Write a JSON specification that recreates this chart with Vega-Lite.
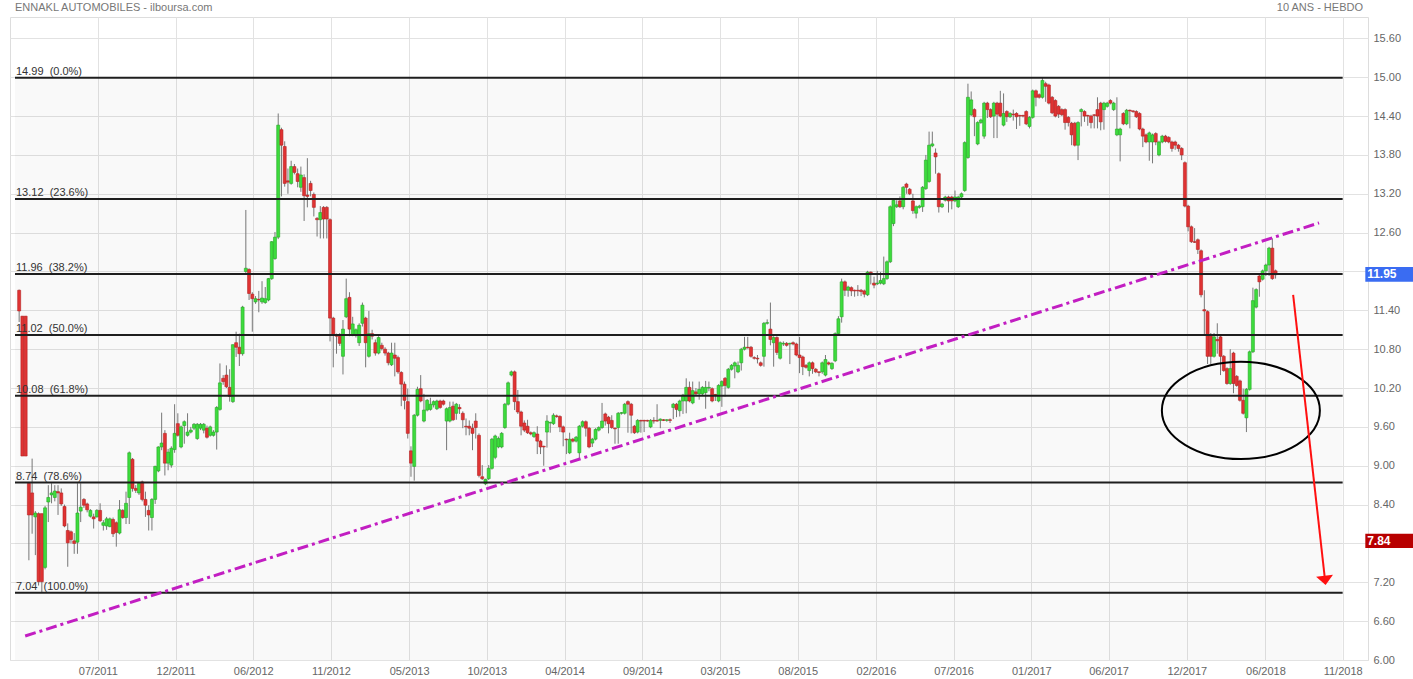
{
  "$schema": "https://vega.github.io/schema/vega-lite/v6.json",
  "width": 1358,
  "height": 643,
  "autosize": {"type": "none"},
  "padding": {"left": 10, "top": 17, "right": 45, "bottom": 19},
  "background": "#ffffff",
  "config": {"view": {"stroke": "#dddddd"}, "font": "Liberation Sans"},
  "resolve": {"axis": {"x": "independent", "y": "independent"}},
  "datasets": {
    "candles": [
      {"d":"2011-01-17","o":11.71,"h":11.72,"l":11.22,"c":11.39},
      {"d":"2011-01-24","o":11.31,"h":11.31,"l":9.15,"c":9.15},
      {"d":"2011-01-31","o":11.31,"h":11.31,"l":9.15,"c":9.15},
      {"d":"2011-02-07","o":8.73,"h":8.75,"l":7.54,"c":8.24},
      {"d":"2011-02-14","o":8.58,"h":9.11,"l":7.95,"c":8.24},
      {"d":"2011-02-21","o":8.21,"h":8.3,"l":7.62,"c":8.27},
      {"d":"2011-02-28","o":8.26,"h":8.28,"l":7.15,"c":7.21},
      {"d":"2011-03-07","o":8.26,"h":8.26,"l":7.04,"c":7.21},
      {"d":"2011-03-14","o":7.43,"h":8.38,"l":7.4,"c":8.35},
      {"d":"2011-03-21","o":8.44,"h":8.7,"l":8.13,"c":8.51},
      {"d":"2011-03-28","o":8.55,"h":8.73,"l":8.42,"c":8.58},
      {"d":"2011-04-04","o":8.51,"h":8.7,"l":8.45,"c":8.61},
      {"d":"2011-04-11","o":8.6,"h":8.7,"l":8.24,"c":8.58},
      {"d":"2011-04-18","o":8.58,"h":8.65,"l":8.38,"c":8.41},
      {"d":"2011-04-25","o":8.37,"h":8.4,"l":8.05,"c":8.07},
      {"d":"2011-05-02","o":8.0,"h":8.11,"l":7.44,"c":7.81},
      {"d":"2011-05-09","o":7.98,"h":8.0,"l":7.8,"c":7.86},
      {"d":"2011-05-16","o":7.84,"h":7.96,"l":7.64,"c":7.8},
      {"d":"2011-05-23","o":7.82,"h":8.73,"l":7.64,"c":8.27},
      {"d":"2011-05-30","o":8.3,"h":8.73,"l":8.13,"c":8.36},
      {"d":"2011-06-06","o":8.48,"h":8.5,"l":8.35,"c":8.39},
      {"d":"2011-06-13","o":8.41,"h":8.43,"l":8.28,"c":8.32},
      {"d":"2011-06-20","o":8.22,"h":8.33,"l":8.2,"c":8.31},
      {"d":"2011-06-27","o":8.21,"h":8.26,"l":8.03,"c":8.18},
      {"d":"2011-07-04","o":8.21,"h":8.33,"l":8.2,"c":8.31},
      {"d":"2011-07-11","o":8.31,"h":8.42,"l":8.13,"c":8.15},
      {"d":"2011-07-18","o":8.08,"h":8.16,"l":8.0,"c":8.12},
      {"d":"2011-07-25","o":8.07,"h":8.21,"l":8.01,"c":8.18},
      {"d":"2011-08-01","o":8.06,"h":8.2,"l":8.05,"c":8.18},
      {"d":"2011-08-08","o":8.17,"h":8.2,"l":7.9,"c":7.95},
      {"d":"2011-08-15","o":8.12,"h":8.14,"l":7.75,"c":7.97},
      {"d":"2011-08-22","o":7.96,"h":8.47,"l":7.94,"c":8.32},
      {"d":"2011-08-29","o":8.31,"h":8.33,"l":8.18,"c":8.2},
      {"d":"2011-09-05","o":8.2,"h":8.6,"l":8.1,"c":8.42},
      {"d":"2011-09-12","o":8.51,"h":9.22,"l":8.1,"c":9.2},
      {"d":"2011-09-19","o":9.1,"h":9.12,"l":8.6,"c":8.65},
      {"d":"2011-09-26","o":8.65,"h":8.7,"l":8.58,"c":8.62},
      {"d":"2011-10-03","o":8.58,"h":8.75,"l":8.55,"c":8.73},
      {"d":"2011-10-10","o":8.75,"h":8.77,"l":8.45,"c":8.48},
      {"d":"2011-10-17","o":8.48,"h":8.6,"l":8.21,"c":8.39},
      {"d":"2011-10-24","o":8.31,"h":8.39,"l":8.0,"c":8.24},
      {"d":"2011-10-31","o":8.2,"h":8.5,"l":8.0,"c":8.48},
      {"d":"2011-11-07","o":8.48,"h":9.0,"l":8.41,"c":8.99},
      {"d":"2011-11-14","o":8.92,"h":9.3,"l":8.9,"c":9.29},
      {"d":"2011-11-21","o":9.29,"h":9.82,"l":9.24,"c":9.35},
      {"d":"2011-11-28","o":9.5,"h":9.55,"l":8.85,"c":9.04},
      {"d":"2011-12-05","o":9.04,"h":9.26,"l":8.93,"c":9.21},
      {"d":"2011-12-12","o":9.01,"h":9.3,"l":8.97,"c":9.27},
      {"d":"2011-12-19","o":9.25,"h":9.95,"l":9.2,"c":9.5},
      {"d":"2011-12-26","o":9.65,"h":9.81,"l":9.45,"c":9.47},
      {"d":"2012-01-02","o":9.29,"h":9.62,"l":9.27,"c":9.6},
      {"d":"2012-01-09","o":9.62,"h":9.7,"l":9.34,"c":9.68},
      {"d":"2012-01-16","o":9.47,"h":9.81,"l":9.45,"c":9.52},
      {"d":"2012-01-23","o":9.52,"h":9.6,"l":9.5,"c":9.55},
      {"d":"2012-01-30","o":9.58,"h":9.66,"l":9.55,"c":9.64},
      {"d":"2012-02-06","o":9.42,"h":9.66,"l":9.4,"c":9.64},
      {"d":"2012-02-13","o":9.58,"h":9.66,"l":9.55,"c":9.64},
      {"d":"2012-02-20","o":9.55,"h":9.66,"l":9.5,"c":9.64},
      {"d":"2012-02-27","o":9.58,"h":9.62,"l":9.42,"c":9.44},
      {"d":"2012-03-05","o":9.47,"h":9.62,"l":9.45,"c":9.6},
      {"d":"2012-03-12","o":9.47,"h":9.55,"l":9.45,"c":9.52},
      {"d":"2012-03-19","o":9.52,"h":9.92,"l":9.25,"c":9.9},
      {"d":"2012-03-26","o":9.87,"h":10.58,"l":9.85,"c":10.28},
      {"d":"2012-04-02","o":10.35,"h":10.4,"l":10.25,"c":10.3},
      {"d":"2012-04-09","o":10.4,"h":10.55,"l":10.2,"c":10.22},
      {"d":"2012-04-16","o":10.21,"h":10.49,"l":9.99,"c":10.07},
      {"d":"2012-04-23","o":9.99,"h":10.87,"l":9.97,"c":10.87},
      {"d":"2012-04-30","o":10.9,"h":11.07,"l":10.68,"c":10.83},
      {"d":"2012-05-07","o":10.83,"h":11.04,"l":10.54,"c":10.73},
      {"d":"2012-05-14","o":10.73,"h":11.47,"l":10.7,"c":11.45},
      {"d":"2012-05-21","o":12.0,"h":12.95,"l":11.95,"c":12.05},
      {"d":"2012-05-28","o":12.03,"h":12.05,"l":11.56,"c":11.66},
      {"d":"2012-06-04","o":11.65,"h":11.68,"l":11.07,"c":11.58},
      {"d":"2012-06-11","o":11.53,"h":11.62,"l":11.5,"c":11.58},
      {"d":"2012-06-18","o":11.57,"h":11.7,"l":11.37,"c":11.56},
      {"d":"2012-06-25","o":11.53,"h":11.85,"l":11.5,"c":11.59},
      {"d":"2012-07-02","o":11.52,"h":11.76,"l":11.5,"c":11.58},
      {"d":"2012-07-09","o":11.56,"h":11.9,"l":11.54,"c":11.89},
      {"d":"2012-07-16","o":11.89,"h":12.47,"l":11.87,"c":12.46},
      {"d":"2012-07-23","o":12.2,"h":12.61,"l":12.18,"c":12.53},
      {"d":"2012-07-30","o":12.53,"h":14.44,"l":12.5,"c":14.26},
      {"d":"2012-08-06","o":14.19,"h":14.22,"l":13.16,"c":13.95},
      {"d":"2012-08-13","o":13.93,"h":14.01,"l":13.31,"c":13.36},
      {"d":"2012-08-20","o":13.4,"h":13.59,"l":13.2,"c":13.38},
      {"d":"2012-08-27","o":13.36,"h":13.71,"l":13.34,"c":13.62},
      {"d":"2012-09-03","o":13.62,"h":13.66,"l":13.5,"c":13.53},
      {"d":"2012-09-10","o":13.51,"h":13.59,"l":13.3,"c":13.39},
      {"d":"2012-09-17","o":13.3,"h":13.62,"l":13.23,"c":13.49},
      {"d":"2012-09-24","o":13.45,"h":13.5,"l":12.78,"c":13.17},
      {"d":"2012-10-01","o":13.18,"h":13.75,"l":12.99,"c":13.16},
      {"d":"2012-10-08","o":13.36,"h":13.4,"l":13.16,"c":13.25},
      {"d":"2012-10-15","o":13.19,"h":13.22,"l":12.85,"c":12.99},
      {"d":"2012-10-22","o":12.82,"h":12.84,"l":12.54,"c":12.8},
      {"d":"2012-10-29","o":12.8,"h":13.01,"l":12.51,"c":12.91},
      {"d":"2012-11-05","o":12.99,"h":13.01,"l":12.51,"c":12.81},
      {"d":"2012-11-12","o":12.99,"h":13.01,"l":12.51,"c":12.81},
      {"d":"2012-11-19","o":12.8,"h":12.82,"l":10.92,"c":11.28},
      {"d":"2012-11-26","o":11.28,"h":11.3,"l":10.52,"c":11.02},
      {"d":"2012-12-03","o":11.02,"h":11.04,"l":10.73,"c":11.0},
      {"d":"2012-12-10","o":11.0,"h":11.05,"l":10.85,"c":10.89},
      {"d":"2012-12-17","o":10.69,"h":11.25,"l":10.41,"c":11.11},
      {"d":"2012-12-24","o":11.3,"h":11.89,"l":11.28,"c":11.58},
      {"d":"2012-12-31","o":11.6,"h":11.68,"l":11.0,"c":11.11},
      {"d":"2013-01-07","o":11.02,"h":11.3,"l":11.0,"c":11.19},
      {"d":"2013-01-14","o":11.02,"h":11.12,"l":10.98,"c":11.1},
      {"d":"2013-01-21","o":10.9,"h":11.2,"l":10.85,"c":11.17},
      {"d":"2013-01-28","o":11.2,"h":11.52,"l":11.15,"c":11.48},
      {"d":"2013-02-04","o":11.28,"h":11.3,"l":10.52,"c":10.9},
      {"d":"2013-02-11","o":10.69,"h":11.39,"l":10.67,"c":11.04},
      {"d":"2013-02-18","o":11.04,"h":11.1,"l":10.95,"c":11.0},
      {"d":"2013-02-25","o":10.9,"h":10.95,"l":10.7,"c":10.74},
      {"d":"2013-03-04","o":10.74,"h":11.0,"l":10.72,"c":10.98},
      {"d":"2013-03-11","o":10.86,"h":10.9,"l":10.78,"c":10.81},
      {"d":"2013-03-18","o":10.8,"h":10.83,"l":10.7,"c":10.74},
      {"d":"2013-03-25","o":10.74,"h":10.76,"l":10.55,"c":10.59},
      {"d":"2013-04-01","o":10.56,"h":10.9,"l":10.54,"c":10.74},
      {"d":"2013-04-08","o":10.71,"h":10.9,"l":10.38,"c":10.66},
      {"d":"2013-04-15","o":10.67,"h":10.7,"l":10.42,"c":10.45},
      {"d":"2013-04-22","o":10.44,"h":10.46,"l":9.92,"c":10.26},
      {"d":"2013-04-29","o":10.26,"h":10.3,"l":9.87,"c":10.01},
      {"d":"2013-05-06","o":9.99,"h":10.19,"l":9.42,"c":9.5},
      {"d":"2013-05-13","o":9.23,"h":9.3,"l":8.83,"c":9.04},
      {"d":"2013-05-20","o":8.99,"h":9.8,"l":8.77,"c":9.78},
      {"d":"2013-05-27","o":9.78,"h":10.22,"l":9.76,"c":10.18},
      {"d":"2013-06-03","o":10.19,"h":10.4,"l":9.98,"c":10.0},
      {"d":"2013-06-10","o":9.69,"h":10.11,"l":9.67,"c":9.86},
      {"d":"2013-06-17","o":9.86,"h":10.03,"l":9.84,"c":10.01},
      {"d":"2013-06-24","o":9.87,"h":10.05,"l":9.85,"c":9.95},
      {"d":"2013-07-01","o":9.94,"h":10.01,"l":9.9,"c":9.99},
      {"d":"2013-07-08","o":9.88,"h":10.02,"l":9.86,"c":10.0},
      {"d":"2013-07-15","o":10.0,"h":10.02,"l":9.88,"c":9.9},
      {"d":"2013-07-22","o":10.0,"h":10.02,"l":9.93,"c":9.95},
      {"d":"2013-07-29","o":9.69,"h":9.9,"l":9.24,"c":9.88},
      {"d":"2013-08-05","o":9.69,"h":9.99,"l":9.67,"c":9.9},
      {"d":"2013-08-12","o":9.92,"h":9.99,"l":9.69,"c":9.71},
      {"d":"2013-08-19","o":9.81,"h":9.97,"l":9.71,"c":9.95},
      {"d":"2013-08-26","o":9.9,"h":9.95,"l":9.8,"c":9.88},
      {"d":"2013-09-02","o":9.81,"h":9.84,"l":9.58,"c":9.71},
      {"d":"2013-09-09","o":9.61,"h":9.73,"l":9.47,"c":9.6},
      {"d":"2013-09-16","o":9.61,"h":9.7,"l":9.47,"c":9.58},
      {"d":"2013-09-23","o":9.58,"h":9.65,"l":9.24,"c":9.5},
      {"d":"2013-09-30","o":9.69,"h":9.81,"l":9.42,"c":9.59},
      {"d":"2013-10-07","o":9.47,"h":9.5,"l":8.82,"c":8.85},
      {"d":"2013-10-14","o":8.83,"h":9.01,"l":8.78,"c":8.8},
      {"d":"2013-10-21","o":8.72,"h":8.8,"l":8.7,"c":8.79},
      {"d":"2013-10-28","o":8.8,"h":9.01,"l":8.78,"c":8.96},
      {"d":"2013-11-04","o":8.96,"h":9.43,"l":8.94,"c":9.41},
      {"d":"2013-11-11","o":9.13,"h":9.48,"l":9.1,"c":9.46},
      {"d":"2013-11-18","o":9.29,"h":9.45,"l":9.27,"c":9.42},
      {"d":"2013-11-25","o":9.29,"h":9.52,"l":9.27,"c":9.5},
      {"d":"2013-12-02","o":9.59,"h":9.97,"l":9.57,"c":9.95},
      {"d":"2013-12-09","o":9.95,"h":10.3,"l":9.93,"c":10.28},
      {"d":"2013-12-16","o":10.4,"h":10.47,"l":10.38,"c":10.45},
      {"d":"2013-12-23","o":10.45,"h":10.47,"l":9.86,"c":9.99},
      {"d":"2013-12-30","o":9.99,"h":10.17,"l":9.8,"c":9.83},
      {"d":"2014-01-06","o":9.83,"h":9.85,"l":9.47,"c":9.61},
      {"d":"2014-01-13","o":9.66,"h":9.7,"l":9.52,"c":9.55},
      {"d":"2014-01-20","o":9.61,"h":9.71,"l":9.49,"c":9.51},
      {"d":"2014-01-27","o":9.51,"h":9.53,"l":9.47,"c":9.49},
      {"d":"2014-02-03","o":9.45,"h":9.53,"l":9.43,"c":9.51},
      {"d":"2014-02-10","o":9.49,"h":9.61,"l":9.18,"c":9.38},
      {"d":"2014-02-17","o":9.38,"h":9.4,"l":9.18,"c":9.29},
      {"d":"2014-02-24","o":9.3,"h":9.31,"l":9.0,"c":9.29},
      {"d":"2014-03-03","o":9.52,"h":9.78,"l":9.28,"c":9.69},
      {"d":"2014-03-10","o":9.66,"h":9.68,"l":9.51,"c":9.67},
      {"d":"2014-03-17","o":9.65,"h":9.81,"l":9.63,"c":9.78},
      {"d":"2014-03-24","o":9.77,"h":9.79,"l":9.74,"c":9.76},
      {"d":"2014-03-31","o":9.76,"h":9.78,"l":9.52,"c":9.6},
      {"d":"2014-04-07","o":9.6,"h":9.62,"l":9.3,"c":9.52},
      {"d":"2014-04-14","o":9.41,"h":9.42,"l":9.18,"c":9.4},
      {"d":"2014-04-21","o":9.2,"h":9.51,"l":9.18,"c":9.41},
      {"d":"2014-04-28","o":9.41,"h":9.43,"l":9.36,"c":9.38},
      {"d":"2014-05-05","o":9.38,"h":9.46,"l":9.36,"c":9.44},
      {"d":"2014-05-12","o":9.2,"h":9.63,"l":9.11,"c":9.61},
      {"d":"2014-05-19","o":9.61,"h":9.7,"l":9.59,"c":9.68},
      {"d":"2014-05-26","o":9.68,"h":9.7,"l":9.45,"c":9.58},
      {"d":"2014-06-02","o":9.58,"h":9.6,"l":9.27,"c":9.29},
      {"d":"2014-06-09","o":9.35,"h":9.43,"l":9.29,"c":9.41},
      {"d":"2014-06-16","o":9.41,"h":9.58,"l":9.39,"c":9.56},
      {"d":"2014-06-23","o":9.55,"h":9.61,"l":9.53,"c":9.59},
      {"d":"2014-06-30","o":9.59,"h":9.97,"l":9.57,"c":9.69},
      {"d":"2014-07-07","o":9.8,"h":9.82,"l":9.62,"c":9.69},
      {"d":"2014-07-14","o":9.75,"h":9.77,"l":9.5,"c":9.65},
      {"d":"2014-07-21","o":9.7,"h":9.78,"l":9.57,"c":9.59},
      {"d":"2014-07-28","o":9.58,"h":9.59,"l":9.34,"c":9.57},
      {"d":"2014-08-04","o":9.59,"h":9.83,"l":9.34,"c":9.81},
      {"d":"2014-08-11","o":9.81,"h":9.83,"l":9.79,"c":9.82},
      {"d":"2014-08-18","o":9.81,"h":9.97,"l":9.79,"c":9.95},
      {"d":"2014-08-25","o":9.99,"h":10.01,"l":9.51,"c":9.95},
      {"d":"2014-09-01","o":9.95,"h":9.97,"l":9.5,"c":9.78},
      {"d":"2014-09-08","o":9.61,"h":9.63,"l":9.49,"c":9.51},
      {"d":"2014-09-15","o":9.52,"h":9.72,"l":9.5,"c":9.7},
      {"d":"2014-09-22","o":9.7,"h":9.71,"l":9.51,"c":9.69},
      {"d":"2014-09-29","o":9.7,"h":9.71,"l":9.52,"c":9.69},
      {"d":"2014-10-06","o":9.7,"h":9.71,"l":9.68,"c":9.69},
      {"d":"2014-10-13","o":9.6,"h":9.72,"l":9.58,"c":9.7},
      {"d":"2014-10-20","o":9.7,"h":9.75,"l":9.65,"c":9.69},
      {"d":"2014-10-27","o":9.7,"h":9.95,"l":9.68,"c":9.69},
      {"d":"2014-11-03","o":9.7,"h":9.73,"l":9.58,"c":9.72},
      {"d":"2014-11-10","o":9.71,"h":9.72,"l":9.69,"c":9.7},
      {"d":"2014-11-17","o":9.7,"h":9.72,"l":9.68,"c":9.71},
      {"d":"2014-11-24","o":9.71,"h":9.73,"l":9.66,"c":9.7},
      {"d":"2014-12-01","o":9.9,"h":9.97,"l":9.72,"c":9.95},
      {"d":"2014-12-08","o":9.95,"h":9.97,"l":9.75,"c":9.87},
      {"d":"2014-12-15","o":9.85,"h":10.02,"l":9.76,"c":10.0},
      {"d":"2014-12-22","o":10.0,"h":10.11,"l":9.8,"c":10.09},
      {"d":"2014-12-29","o":10.0,"h":10.35,"l":9.81,"c":10.21},
      {"d":"2015-01-05","o":10.21,"h":10.3,"l":9.98,"c":10.0},
      {"d":"2015-01-12","o":9.97,"h":10.3,"l":9.95,"c":10.16},
      {"d":"2015-01-19","o":10.14,"h":10.2,"l":10.08,"c":10.11},
      {"d":"2015-01-26","o":10.11,"h":10.3,"l":10.02,"c":10.18},
      {"d":"2015-02-02","o":10.11,"h":10.23,"l":10.09,"c":10.21},
      {"d":"2015-02-09","o":10.13,"h":10.31,"l":9.88,"c":10.21},
      {"d":"2015-02-16","o":10.2,"h":10.3,"l":10.15,"c":10.21},
      {"d":"2015-02-23","o":10.19,"h":10.21,"l":9.98,"c":10.0},
      {"d":"2015-03-02","o":10.1,"h":10.11,"l":10.0,"c":10.09},
      {"d":"2015-03-09","o":10.0,"h":10.26,"l":9.98,"c":10.24},
      {"d":"2015-03-16","o":10.23,"h":10.32,"l":9.91,"c":10.3},
      {"d":"2015-03-23","o":10.35,"h":10.37,"l":10.07,"c":10.24},
      {"d":"2015-03-30","o":10.21,"h":10.51,"l":10.19,"c":10.49},
      {"d":"2015-04-06","o":10.49,"h":10.57,"l":10.47,"c":10.55},
      {"d":"2015-04-13","o":10.54,"h":10.61,"l":10.35,"c":10.59},
      {"d":"2015-04-20","o":10.45,"h":10.61,"l":10.43,"c":10.55},
      {"d":"2015-04-27","o":10.59,"h":10.82,"l":10.47,"c":10.8},
      {"d":"2015-05-04","o":10.8,"h":10.99,"l":10.78,"c":10.83},
      {"d":"2015-05-11","o":10.83,"h":10.99,"l":10.81,"c":10.82},
      {"d":"2015-05-18","o":10.83,"h":10.85,"l":10.67,"c":10.69},
      {"d":"2015-05-25","o":10.67,"h":10.69,"l":10.64,"c":10.66},
      {"d":"2015-06-01","o":10.66,"h":10.71,"l":10.58,"c":10.65},
      {"d":"2015-06-08","o":10.59,"h":10.61,"l":10.53,"c":10.55},
      {"d":"2015-06-15","o":10.69,"h":11.22,"l":10.53,"c":11.2},
      {"d":"2015-06-22","o":11.2,"h":11.26,"l":11.18,"c":11.21},
      {"d":"2015-06-29","o":11.11,"h":11.52,"l":10.86,"c":10.95},
      {"d":"2015-07-06","o":10.9,"h":11.0,"l":10.53,"c":10.98},
      {"d":"2015-07-13","o":10.98,"h":11.0,"l":10.71,"c":10.75},
      {"d":"2015-07-20","o":10.66,"h":10.92,"l":10.64,"c":10.9},
      {"d":"2015-07-27","o":10.88,"h":10.92,"l":10.85,"c":10.89},
      {"d":"2015-08-03","o":10.89,"h":10.91,"l":10.84,"c":10.86},
      {"d":"2015-08-10","o":10.88,"h":10.9,"l":10.57,"c":10.89},
      {"d":"2015-08-17","o":10.9,"h":10.92,"l":10.86,"c":10.88},
      {"d":"2015-08-24","o":10.88,"h":10.9,"l":10.69,"c":10.71},
      {"d":"2015-08-31","o":10.71,"h":10.99,"l":10.43,"c":10.67},
      {"d":"2015-09-07","o":10.68,"h":10.7,"l":10.4,"c":10.53},
      {"d":"2015-09-14","o":10.55,"h":10.57,"l":10.5,"c":10.52},
      {"d":"2015-09-21","o":10.47,"h":10.61,"l":10.38,"c":10.59},
      {"d":"2015-09-28","o":10.59,"h":10.61,"l":10.42,"c":10.5},
      {"d":"2015-10-05","o":10.49,"h":10.51,"l":10.43,"c":10.45},
      {"d":"2015-10-12","o":10.45,"h":10.46,"l":10.38,"c":10.44},
      {"d":"2015-10-19","o":10.45,"h":10.61,"l":10.42,"c":10.59},
      {"d":"2015-10-26","o":10.4,"h":10.71,"l":10.38,"c":10.64},
      {"d":"2015-11-02","o":10.59,"h":10.61,"l":10.55,"c":10.57},
      {"d":"2015-11-09","o":10.5,"h":10.6,"l":10.48,"c":10.58},
      {"d":"2015-11-16","o":10.62,"h":11.06,"l":10.6,"c":11.04},
      {"d":"2015-11-23","o":11.04,"h":11.31,"l":11.02,"c":11.27},
      {"d":"2015-11-30","o":11.3,"h":11.89,"l":11.21,"c":11.84},
      {"d":"2015-12-07","o":11.84,"h":11.86,"l":11.62,"c":11.71},
      {"d":"2015-12-14","o":11.71,"h":11.78,"l":11.61,"c":11.76},
      {"d":"2015-12-21","o":11.75,"h":11.77,"l":11.62,"c":11.7},
      {"d":"2015-12-28","o":11.71,"h":11.72,"l":11.61,"c":11.7},
      {"d":"2016-01-04","o":11.71,"h":11.79,"l":11.62,"c":11.7},
      {"d":"2016-01-11","o":11.71,"h":11.73,"l":11.62,"c":11.69},
      {"d":"2016-01-18","o":11.7,"h":11.72,"l":11.6,"c":11.65},
      {"d":"2016-01-25","o":11.64,"h":12.01,"l":11.62,"c":11.99},
      {"d":"2016-02-01","o":11.99,"h":12.0,"l":11.8,"c":11.98},
      {"d":"2016-02-08","o":11.82,"h":11.92,"l":11.74,"c":11.79},
      {"d":"2016-02-15","o":11.81,"h":12.01,"l":11.79,"c":11.82},
      {"d":"2016-02-22","o":11.82,"h":11.99,"l":11.8,"c":11.86},
      {"d":"2016-02-29","o":11.81,"h":12.23,"l":11.79,"c":11.89},
      {"d":"2016-03-07","o":11.89,"h":12.17,"l":11.87,"c":12.15},
      {"d":"2016-03-14","o":12.15,"h":13.02,"l":12.13,"c":13.0},
      {"d":"2016-03-21","o":12.74,"h":13.12,"l":12.7,"c":13.1},
      {"d":"2016-03-28","o":13.0,"h":13.1,"l":12.98,"c":13.03},
      {"d":"2016-04-04","o":13.09,"h":13.16,"l":12.98,"c":13.0},
      {"d":"2016-04-11","o":13.0,"h":13.32,"l":12.96,"c":13.3},
      {"d":"2016-04-18","o":13.35,"h":13.37,"l":13.2,"c":13.3},
      {"d":"2016-04-25","o":13.27,"h":13.29,"l":13.18,"c":13.2},
      {"d":"2016-05-02","o":13.09,"h":13.2,"l":12.89,"c":12.94},
      {"d":"2016-05-09","o":12.9,"h":13.02,"l":12.82,"c":13.0},
      {"d":"2016-05-16","o":12.99,"h":13.03,"l":12.97,"c":13.01},
      {"d":"2016-05-23","o":13.0,"h":13.32,"l":12.92,"c":13.3},
      {"d":"2016-05-30","o":13.28,"h":13.8,"l":13.26,"c":13.72},
      {"d":"2016-06-06","o":13.39,"h":14.16,"l":13.37,"c":13.95},
      {"d":"2016-06-13","o":13.94,"h":14.16,"l":13.92,"c":13.97},
      {"d":"2016-06-20","o":13.83,"h":13.9,"l":13.51,"c":13.77},
      {"d":"2016-06-27","o":13.51,"h":13.53,"l":12.91,"c":13.0},
      {"d":"2016-07-04","o":13.0,"h":13.06,"l":12.98,"c":13.04},
      {"d":"2016-07-11","o":13.1,"h":13.17,"l":13.08,"c":13.15},
      {"d":"2016-07-18","o":13.15,"h":13.17,"l":12.91,"c":13.09},
      {"d":"2016-07-25","o":13.15,"h":13.17,"l":12.96,"c":13.09},
      {"d":"2016-08-01","o":13.09,"h":13.25,"l":13.07,"c":13.15},
      {"d":"2016-08-08","o":13.0,"h":13.17,"l":12.98,"c":13.15},
      {"d":"2016-08-15","o":13.15,"h":13.22,"l":13.13,"c":13.2},
      {"d":"2016-08-22","o":13.25,"h":14.01,"l":13.23,"c":13.99},
      {"d":"2016-08-29","o":13.76,"h":14.9,"l":13.74,"c":14.69},
      {"d":"2016-09-05","o":14.42,"h":14.78,"l":14.4,"c":14.65},
      {"d":"2016-09-12","o":14.5,"h":14.52,"l":14.09,"c":14.39},
      {"d":"2016-09-19","o":13.97,"h":14.32,"l":13.95,"c":14.3},
      {"d":"2016-09-26","o":14.3,"h":14.36,"l":14.28,"c":14.34},
      {"d":"2016-10-03","o":14.09,"h":14.62,"l":14.05,"c":14.6},
      {"d":"2016-10-10","o":14.6,"h":14.62,"l":14.37,"c":14.5},
      {"d":"2016-10-17","o":14.5,"h":14.52,"l":14.37,"c":14.39},
      {"d":"2016-10-24","o":14.4,"h":14.62,"l":14.06,"c":14.6},
      {"d":"2016-10-31","o":14.6,"h":14.62,"l":14.06,"c":14.43},
      {"d":"2016-11-07","o":14.6,"h":14.79,"l":14.38,"c":14.4},
      {"d":"2016-11-14","o":14.26,"h":14.75,"l":14.24,"c":14.44},
      {"d":"2016-11-21","o":14.47,"h":14.49,"l":14.31,"c":14.39},
      {"d":"2016-11-28","o":14.39,"h":14.46,"l":14.37,"c":14.44},
      {"d":"2016-12-05","o":14.43,"h":14.5,"l":14.33,"c":14.42},
      {"d":"2016-12-12","o":14.44,"h":14.46,"l":14.2,"c":14.39},
      {"d":"2016-12-19","o":14.41,"h":14.42,"l":14.25,"c":14.4},
      {"d":"2016-12-26","o":14.41,"h":14.42,"l":14.38,"c":14.4},
      {"d":"2017-01-02","o":14.47,"h":14.49,"l":14.26,"c":14.28},
      {"d":"2017-01-09","o":14.24,"h":14.4,"l":14.21,"c":14.38},
      {"d":"2017-01-16","o":14.38,"h":14.81,"l":14.36,"c":14.79},
      {"d":"2017-01-23","o":14.79,"h":14.81,"l":14.55,"c":14.69},
      {"d":"2017-01-30","o":14.73,"h":14.75,"l":14.67,"c":14.69},
      {"d":"2017-02-06","o":14.69,"h":14.99,"l":14.67,"c":14.95},
      {"d":"2017-02-13","o":14.9,"h":14.93,"l":14.62,"c":14.86},
      {"d":"2017-02-20","o":14.88,"h":14.9,"l":14.58,"c":14.6},
      {"d":"2017-02-27","o":14.69,"h":14.71,"l":14.43,"c":14.45},
      {"d":"2017-03-06","o":14.64,"h":14.66,"l":14.38,"c":14.4},
      {"d":"2017-03-13","o":14.55,"h":14.57,"l":14.37,"c":14.43},
      {"d":"2017-03-20","o":14.5,"h":14.52,"l":14.4,"c":14.42},
      {"d":"2017-03-27","o":14.5,"h":14.52,"l":14.19,"c":14.3},
      {"d":"2017-04-03","o":14.38,"h":14.4,"l":14.24,"c":14.3},
      {"d":"2017-04-10","o":14.29,"h":14.31,"l":13.95,"c":14.11},
      {"d":"2017-04-17","o":14.29,"h":14.31,"l":13.93,"c":13.95},
      {"d":"2017-04-24","o":13.95,"h":14.32,"l":13.72,"c":14.3},
      {"d":"2017-05-01","o":14.47,"h":14.52,"l":14.24,"c":14.5},
      {"d":"2017-05-08","o":14.47,"h":14.49,"l":14.31,"c":14.4},
      {"d":"2017-05-15","o":14.41,"h":14.42,"l":14.25,"c":14.4},
      {"d":"2017-05-22","o":14.4,"h":14.42,"l":14.21,"c":14.3},
      {"d":"2017-05-29","o":14.42,"h":14.43,"l":14.21,"c":14.41},
      {"d":"2017-06-05","o":14.5,"h":14.69,"l":14.21,"c":14.4},
      {"d":"2017-06-12","o":14.6,"h":14.62,"l":14.18,"c":14.31},
      {"d":"2017-06-19","o":14.5,"h":14.62,"l":14.19,"c":14.6},
      {"d":"2017-06-26","o":14.55,"h":14.62,"l":14.53,"c":14.6},
      {"d":"2017-07-03","o":14.64,"h":14.66,"l":14.58,"c":14.6},
      {"d":"2017-07-10","o":14.5,"h":14.62,"l":14.48,"c":14.6},
      {"d":"2017-07-17","o":14.11,"h":14.69,"l":14.09,"c":14.2},
      {"d":"2017-07-24","o":14.11,"h":14.22,"l":13.7,"c":14.2},
      {"d":"2017-07-31","o":14.44,"h":14.46,"l":14.26,"c":14.28},
      {"d":"2017-08-07","o":14.28,"h":14.51,"l":14.26,"c":14.49},
      {"d":"2017-08-14","o":14.49,"h":14.5,"l":14.21,"c":14.48},
      {"d":"2017-08-21","o":14.48,"h":14.49,"l":14.45,"c":14.47},
      {"d":"2017-08-28","o":14.47,"h":14.49,"l":14.37,"c":14.39},
      {"d":"2017-09-04","o":14.44,"h":14.46,"l":14.18,"c":14.2},
      {"d":"2017-09-11","o":14.2,"h":14.22,"l":13.92,"c":14.09},
      {"d":"2017-09-18","o":14.11,"h":14.13,"l":13.98,"c":14.0},
      {"d":"2017-09-25","o":14.0,"h":14.16,"l":13.71,"c":14.14},
      {"d":"2017-10-02","o":14.0,"h":14.13,"l":13.67,"c":14.11},
      {"d":"2017-10-09","o":14.13,"h":14.15,"l":13.95,"c":14.0},
      {"d":"2017-10-16","o":13.8,"h":14.02,"l":13.78,"c":14.0},
      {"d":"2017-10-23","o":14.0,"h":14.11,"l":13.98,"c":14.09},
      {"d":"2017-10-30","o":14.09,"h":14.11,"l":13.99,"c":14.01},
      {"d":"2017-11-06","o":14.07,"h":14.09,"l":13.98,"c":14.0},
      {"d":"2017-11-13","o":14.0,"h":14.02,"l":13.85,"c":13.9},
      {"d":"2017-11-20","o":14.0,"h":14.02,"l":13.88,"c":13.95},
      {"d":"2017-11-27","o":13.95,"h":13.97,"l":13.85,"c":13.9},
      {"d":"2017-12-04","o":13.9,"h":13.92,"l":13.72,"c":13.8},
      {"d":"2017-12-11","o":13.68,"h":13.7,"l":12.99,"c":13.01},
      {"d":"2017-12-18","o":13.01,"h":13.03,"l":12.62,"c":12.69},
      {"d":"2017-12-25","o":12.69,"h":12.71,"l":12.44,"c":12.46},
      {"d":"2018-01-01","o":12.46,"h":12.67,"l":12.44,"c":12.45},
      {"d":"2018-01-08","o":12.49,"h":12.51,"l":12.27,"c":12.34},
      {"d":"2018-01-15","o":12.32,"h":12.34,"l":11.6,"c":11.64},
      {"d":"2018-01-22","o":11.41,"h":11.71,"l":11.02,"c":11.39},
      {"d":"2018-01-29","o":11.38,"h":11.4,"l":10.57,"c":10.69},
      {"d":"2018-02-05","o":11.02,"h":11.05,"l":10.57,"c":10.69},
      {"d":"2018-02-12","o":10.69,"h":11.05,"l":10.67,"c":10.99},
      {"d":"2018-02-19","o":10.95,"h":11.2,"l":10.73,"c":10.93},
      {"d":"2018-02-26","o":10.99,"h":11.01,"l":10.4,"c":10.69},
      {"d":"2018-03-05","o":10.69,"h":10.71,"l":10.45,"c":10.47},
      {"d":"2018-03-12","o":10.5,"h":10.52,"l":10.25,"c":10.27},
      {"d":"2018-03-19","o":10.27,"h":10.8,"l":10.25,"c":10.5},
      {"d":"2018-03-26","o":10.74,"h":10.76,"l":10.12,"c":10.27},
      {"d":"2018-04-02","o":10.38,"h":10.4,"l":10.22,"c":10.24},
      {"d":"2018-04-09","o":10.31,"h":10.33,"l":9.99,"c":10.01},
      {"d":"2018-04-16","o":10.01,"h":10.19,"l":9.79,"c":9.81},
      {"d":"2018-04-23","o":9.74,"h":10.2,"l":9.52,"c":10.18},
      {"d":"2018-04-30","o":10.18,"h":10.78,"l":10.16,"c":10.76},
      {"d":"2018-05-07","o":10.76,"h":11.75,"l":10.74,"c":11.55},
      {"d":"2018-05-14","o":11.45,"h":11.74,"l":11.43,"c":11.72},
      {"d":"2018-05-21","o":11.93,"h":11.95,"l":11.61,"c":11.84},
      {"d":"2018-05-28","o":11.88,"h":12.03,"l":11.86,"c":12.01},
      {"d":"2018-06-04","o":12.01,"h":12.12,"l":11.93,"c":12.1},
      {"d":"2018-06-11","o":12.1,"h":12.38,"l":11.93,"c":12.36},
      {"d":"2018-06-18","o":12.36,"h":12.51,"l":11.87,"c":11.89},
      {"d":"2018-06-25","o":12.01,"h":12.03,"l":11.89,"c":11.95}
    ],
    "fib": [
      {"v":14.99,"t":"14.99\u00a0 (0.0%)"},
      {"v":13.12,"t":"13.12\u00a0 (23.6%)"},
      {"v":11.96,"t":"11.96\u00a0 (38.2%)"},
      {"v":11.02,"t":"11.02\u00a0 (50.0%)"},
      {"v":10.08,"t":"10.08\u00a0 (61.8%)"},
      {"v":8.74,"t":"8.74\u00a0 (78.6%)"},
      {"v":7.04,"t":"7.04\u00a0 (100.0%)"}
    ],
    "trend": [
      {"d":"2011-01-30","v":6.37},
      {"d":"2018-09-27","v":12.75}
    ],
    "arrow": [
      {"d":"2018-08-02","v":11.64},
      {"d":"2018-10-10","v":7.23}
    ]
  },
  "layer": [
    {
      "data": {"values": [{}]},
      "mark": {"type": "rect", "fill": "#000000", "fillOpacity": 0.022},
      "encoding": {
        "x": {"datum": {"year":2011,"month":1,"date":8,"utc":true}, "type": "temporal",
          "scale": {"type": "utc", "domain": [{"year":2011,"month":1,"date":8,"utc":true},{"year":2018,"month":12,"date":31,"utc":true}]},
          "axis": {"orient": "bottom", "title": null, "grid": true, "gridColor": "#e2e2e2", "domain": false, "ticks": false,
            "labelPadding": 5, "labelColor": "#666666", "labelFontSize": 11, "labelFont": "Liberation Sans",
            "values": [
              {"year":2011,"month":7,"date":6,"utc":true},
              {"year":2011,"month":12,"date":21,"utc":true},
              {"year":2012,"month":6,"date":6,"utc":true},
              {"year":2012,"month":11,"date":21,"utc":true},
              {"year":2013,"month":5,"date":9,"utc":true},
              {"year":2013,"month":10,"date":24,"utc":true},
              {"year":2014,"month":4,"date":10,"utc":true},
              {"year":2014,"month":9,"date":25,"utc":true},
              {"year":2015,"month":3,"date":12,"utc":true},
              {"year":2015,"month":8,"date":27,"utc":true},
              {"year":2016,"month":2,"date":12,"utc":true},
              {"year":2016,"month":7,"date":29,"utc":true},
              {"year":2017,"month":1,"date":13,"utc":true},
              {"year":2017,"month":6,"date":29,"utc":true},
              {"year":2017,"month":12,"date":15,"utc":true},
              {"year":2018,"month":6,"date":3,"utc":true},
              {"year":2018,"month":11,"date":17,"utc":true}
            ],
            "labelExpr": "utcFormat(datum.value, '%m/%Y')"}},
        "x2": {"datum": {"year":2018,"month":11,"date":17,"utc":true}},
        "y": {"datum": 6, "type": "quantitative",
          "scale": {"domain": [6, 15.93], "nice": false, "zero": false},
          "axis": {"orient": "right", "title": null, "grid": true, "gridColor": "#e2e2e2", "domain": false, "ticks": false,
            "labelPadding": 5, "labelColor": "#666666", "labelFontSize": 11, "labelFont": "Liberation Sans",
            "labelExpr": "(abs(datum.value - 12) < 0.001 || abs(datum.value - 7.8) < 0.001) ? '' : format(datum.value, '.2f')",
            "values": [6, 6.6, 7.2, 7.8, 8.4, 9, 9.6, 10.2, 10.8, 11.4, 12, 12.6, 13.2, 13.8, 14.4, 15, 15.6]}},
        "y2": {"datum": 14.99}
      }
    },
    {
      "data": {"name": "candles"},
      "mark": {"type": "rule", "color": "#777777", "strokeWidth": 1},
      "encoding": {
        "x": {"field": "d", "type": "temporal", "axis": null},
        "y": {"field": "l", "type": "quantitative", "axis": null},
        "y2": {"field": "h"}
      }
    },
    {
      "data": {"name": "candles"},
      "mark": {"type": "bar", "size": 3, "strokeWidth": 0.6},
      "encoding": {
        "x": {"field": "d", "type": "temporal", "axis": null},
        "y": {"field": "o", "type": "quantitative", "axis": null},
        "y2": {"field": "c"},
        "color": {"condition": {"test": "datum.c >= datum.o", "value": "#3ddc3d"}, "value": "#e03333"},
        "stroke": {"condition": {"test": "datum.c >= datum.o", "value": "#24a824"}, "value": "#b52222"}
      }
    },
    {
      "data": {"name": "fib"},
      "mark": {"type": "rule", "color": "#1e1e1e", "strokeWidth": 2},
      "encoding": {
        "x": {"datum": {"year":2011,"month":1,"date":8,"utc":true}, "type": "temporal", "axis": null},
        "x2": {"datum": {"year":2018,"month":11,"date":17,"utc":true}},
        "y": {"field": "v", "type": "quantitative", "axis": null}
      }
    },
    {
      "data": {"name": "fib"},
      "mark": {"type": "text", "align": "left", "baseline": "bottom", "dy": -1, "dx": 1, "fontSize": 11, "font": "Liberation Sans", "color": "#333333"},
      "encoding": {
        "x": {"datum": {"year":2011,"month":1,"date":8,"utc":true}, "type": "temporal", "axis": null},
        "y": {"field": "v", "type": "quantitative", "axis": null},
        "text": {"field": "t"}
      }
    },
    {
      "data": {"name": "trend"},
      "mark": {"type": "line", "color": "#c21ec2", "strokeWidth": 3, "strokeDash": [11, 4, 3, 4]},
      "encoding": {
        "x": {"field": "d", "type": "temporal", "axis": null},
        "y": {"field": "v", "type": "quantitative", "axis": null}
      }
    },
    {
      "data": {"values": [{}]},
      "mark": {"type": "point", "shape": "M -1 0 A 1 0.615 0 1 1 1 0 A 1 0.615 0 1 1 -1 0 Z", "size": 24964, "filled": false, "stroke": "#000000", "strokeWidth": 2, "opacity": 1},
      "encoding": {
        "x": {"datum": {"year":2018,"month":4,"date":11,"utc":true}, "type": "temporal", "axis": null},
        "y": {"datum": 9.854, "type": "quantitative", "axis": null}
      }
    },
    {
      "data": {"name": "arrow"},
      "mark": {"type": "line", "color": "#ff1010", "strokeWidth": 2, "clip": false},
      "encoding": {
        "x": {"field": "d", "type": "temporal", "axis": null},
        "y": {"field": "v", "type": "quantitative", "axis": null}
      }
    },
    {
      "data": {"values": [{}]},
      "mark": {"type": "point", "shape": "M -1 -0.55 L 1 -0.55 L 0 0.55 Z", "size": 289, "filled": true, "fill": "#ff1010", "opacity": 1, "angle": 353.6},
      "encoding": {
        "x": {"datum": {"year":2018,"month":10,"date":10,"utc":true}, "type": "temporal", "axis": null},
        "y": {"datum": 7.23, "type": "quantitative", "axis": null}
      }
    },
    {
      "data": {"values": [{}]},
      "mark": {"type": "rect", "fill": "#3a6cf2", "clip": false},
      "encoding": {
        "x": {"datum": {"year":2019,"month":1,"date":5,"utc":true}, "type": "temporal", "axis": null},
        "x2": {"datum": {"year":2019,"month":4,"date":20,"utc":true}},
        "y": {"datum": 11.84, "type": "quantitative", "axis": null},
        "y2": {"datum": 12.07}
      }
    },
    {
      "data": {"values": [{}]},
      "mark": {"type": "rect", "fill": "#b80000", "clip": false},
      "encoding": {
        "x": {"datum": {"year":2019,"month":1,"date":5,"utc":true}, "type": "temporal", "axis": null},
        "x2": {"datum": {"year":2019,"month":4,"date":20,"utc":true}},
        "y": {"datum": 7.73, "type": "quantitative", "axis": null},
        "y2": {"datum": 7.95}
      }
    },
    {
      "data": {"values": [{"t": "11.95", "v": 11.955}, {"t": "7.84", "v": 7.84}]},
      "mark": {"type": "text", "align": "left", "baseline": "middle", "fontSize": 12, "fontWeight": "bold", "font": "Liberation Sans", "color": "#ffffff", "clip": false},
      "encoding": {
        "x": {"datum": {"year":2019,"month":1,"date":9,"utc":true}, "type": "temporal", "axis": null},
        "y": {"field": "v", "type": "quantitative", "axis": null},
        "text": {"field": "t"}
      }
    },
    {
      "data": {"values": [{"t": "ENNAKL AUTOMOBILES - ilboursa.com"}]},
      "mark": {"type": "text", "align": "left", "baseline": "middle", "fontSize": 11, "font": "Liberation Sans", "color": "#777777", "clip": false},
      "encoding": {
        "x": {"datum": {"year":2011,"month":1,"date":8,"utc":true}, "type": "temporal", "axis": null},
        "y": {"datum": 16.07, "type": "quantitative", "axis": null},
        "text": {"field": "t"}
      }
    },
    {
      "data": {"values": [{"t": "10 ANS - HEBDO"}]},
      "mark": {"type": "text", "align": "right", "baseline": "middle", "fontSize": 11, "font": "Liberation Sans", "color": "#777777", "clip": false},
      "encoding": {
        "x": {"datum": {"year":2018,"month":12,"date":31,"utc":true}, "type": "temporal", "axis": null},
        "y": {"datum": 16.07, "type": "quantitative", "axis": null},
        "text": {"field": "t"}
      }
    }
  ]
}
